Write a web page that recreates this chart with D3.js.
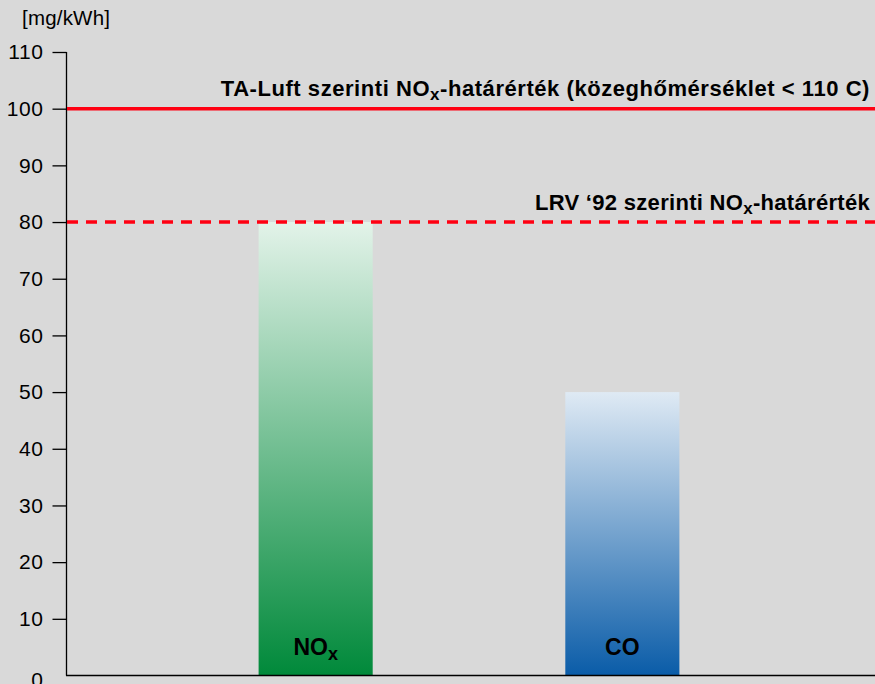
<!DOCTYPE html>
<html>
<head>
<meta charset="utf-8">
<script src="https://cdn.jsdelivr.net/npm/d3@7/dist/d3.min.js"></script>
<style>
html,body{margin:0;padding:0;background:#d9d9d9;}
svg{display:block;font-family:"Liberation Sans",Arial,sans-serif;}
</style>
</head>
<body>
<svg id="chart" width="875" height="684"></svg>
<script>
const categories = ["NOx", "CO"];
const values = [80, 50];
const yTicks = [0, 10, 20, 30, 40, 50, 60, 70, 80, 90, 100, 110];
const unitLabel = "[mg/kWh]";
const limitValues = [100, 80];
const limitDashed = [false, true];
const limitLabels = [
  ["TA-Luft szerinti NO", "x", "-határérték (közeghőmérséklet < 110 C)"],
  ["LRV ‘92 szerinti NO", "x", "-határérték"]
];
const barLabels = [["NO", "x"], ["CO", ""]];
const gradients = [["#e3f3e9", "#00893a"], ["#dfeaf4", "#0a5ca8"]];

const W = 875, H = 684;
const svg = d3.select("#chart");
svg.append("rect").attr("width", W).attr("height", H).attr("fill", "#d9d9d9");

const y = d3.scaleLinear().domain([0, 110]).range([675.5, 52]);
const x = d3.scaleBand().domain(categories).range([66, 872]).paddingInner(0.628).paddingOuter(0.628);

const defs = svg.append("defs");
categories.forEach((c, i) => {
  const g = defs.append("linearGradient").attr("id", "grad" + i)
    .attr("x1", 0).attr("y1", 0).attr("x2", 0).attr("y2", 1);
  g.append("stop").attr("offset", "0%").attr("stop-color", gradients[i][0]);
  g.append("stop").attr("offset", "100%").attr("stop-color", gradients[i][1]);
});

// bars
svg.append("g").selectAll("rect").data(categories).join("rect")
  .attr("x", d => x(d))
  .attr("width", x.bandwidth())
  .attr("y", (d, i) => y(values[i]))
  .attr("height", (d, i) => y(0) - y(values[i]))
  .attr("fill", (d, i) => `url(#grad${i})`);

// bar labels
categories.forEach((c, i) => {
  const t = svg.append("text")
    .attr("x", x(c) + x.bandwidth() / 2)
    .attr("y", 655)
    .attr("text-anchor", "middle")
    .attr("font-size", 23).attr("font-weight", "bold").attr("fill", "#000");
  t.append("tspan").text(barLabels[i][0]);
  if (barLabels[i][1]) t.append("tspan").attr("font-size", 18).attr("dy", 5).text(barLabels[i][1]);
});

// y axis
const yAxis = d3.axisLeft(y).tickValues(yTicks).tickSize(14).tickPadding(9).tickFormat(d3.format("d"));
const ga = svg.append("g").attr("transform", "translate(66.5,0)").call(yAxis);
ga.select(".domain").attr("stroke", "#000").attr("stroke-width", 1.3).attr("d", `M0,${y(110)}V${y(0)}`);
ga.selectAll(".tick line").attr("stroke", "#000").attr("stroke-width", 1.3);
ga.selectAll(".tick text").attr("font-size", 21).attr("fill", "#000")
  .attr("font-family", "Liberation Sans, Arial, sans-serif").attr("letter-spacing", 0.6);
ga.selectAll(".tick").filter(d => d === 0).select("line").remove();
ga.selectAll(".tick").filter(d => d === 0).select("text").attr("dy", "0.5em");

// x axis line
svg.append("line").attr("x1", 66).attr("x2", 875).attr("y1", y(0)).attr("y2", y(0))
  .attr("stroke", "#000").attr("stroke-width", 1.3);

// unit label
svg.append("text").attr("x", 22).attr("y", 25).attr("font-size", 20.5).attr("letter-spacing", 0.2)
  .attr("fill", "#000").text(unitLabel);

// limit lines
limitValues.forEach((v, i) => {
  svg.append("line").attr("x1", 67).attr("x2", 875).attr("y1", y(v)).attr("y2", y(v))
    .attr("stroke", "#ff0012").attr("stroke-width", 3.5)
    .attr("stroke-dasharray", limitDashed[i] ? "11,8" : null);
  const t = svg.append("text").attr("x", 870).attr("y", y(v) - 12.5)
    .attr("text-anchor", "end").attr("font-size", 22).attr("font-weight", "bold")
    .attr("letter-spacing", i === 0 ? 0.55 : 0.3).attr("fill", "#000");
  t.append("tspan").text(limitLabels[i][0]);
  t.append("tspan").attr("font-size", 17).attr("dy", 4).text(limitLabels[i][1]);
  t.append("tspan").attr("dy", -4).text(limitLabels[i][2]);
});
</script>
</body>
</html>
